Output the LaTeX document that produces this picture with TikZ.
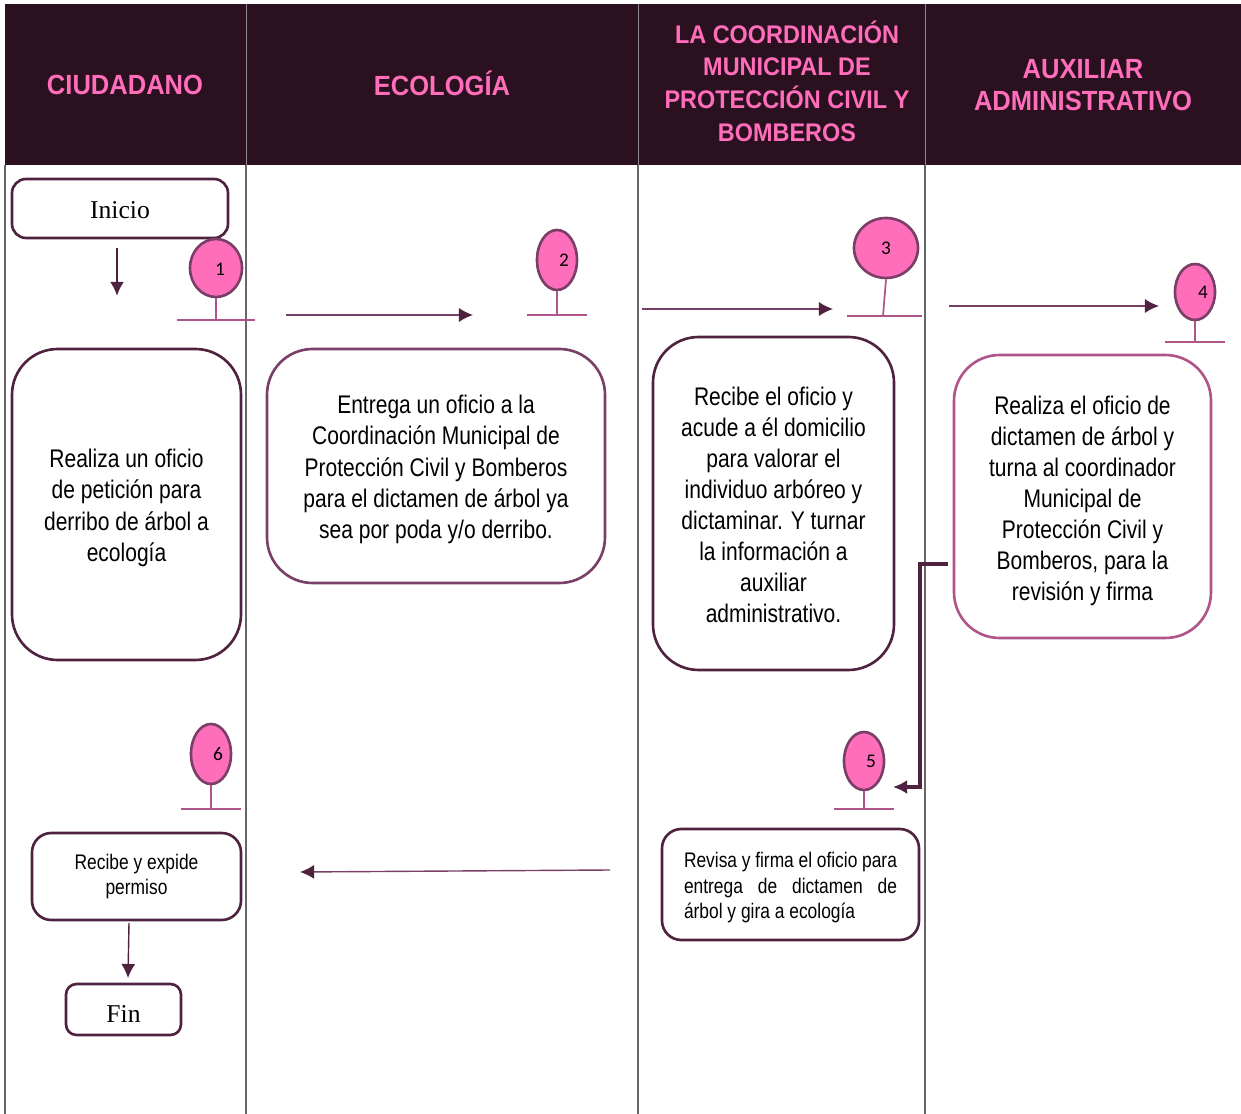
\documentclass[tikz,border=0pt]{standalone}
\usepackage{fontspec}
\usetikzlibrary{arrows.meta,shapes.geometric}
\newfontfamily\condfont[FakeStretch=0.825]{Liberation Sans}
\newfontfamily\headfont[FakeStretch=0.92]{Liberation Sans Bold}
\newfontfamily\timesfont{Liberation Serif}
\newfontfamily\numfont{Carlito}
\newcommand{\dropline}[1]{\rule{0pt}{#1}}
\definecolor{headdark}{HTML}{2B1120}
\definecolor{headpink}{HTML}{FF6DBB}
\definecolor{wine}{HTML}{4F2340}
\definecolor{mauve}{HTML}{7A3F66}
\definecolor{rose}{HTML}{B0558A}
\definecolor{pinkfill}{HTML}{FF6EBB}
\tikzset{
    headtext/.style={text=headpink,align=center,font=\headfont\fontsize{15.8}{17.8}\selectfont},
    bodytext/.style={align=center,text=black,font=\condfont\fontsize{14.5}{17.7}\selectfont},
    smalltext/.style={text=black,font=\condfont\fontsize{12}{14.6}\selectfont},
    startbox/.style={draw=wine,line width=1.5pt,rounded corners=8pt,inner sep=0pt,font=\timesfont\fontsize{14.6}{17}\selectfont},
    bigbox/.style={draw=wine,line width=1.5pt,rounded corners=26pt,inner sep=0pt,bodytext},
    smallbox/.style={draw=wine,line width=1.5pt,rounded corners=11pt,inner sep=0pt,smalltext},
    pin/.style={draw=mauve,fill=pinkfill,line width=1.5pt,ellipse,inner sep=0pt},
    pinnum/.style={inner sep=0pt,text=black,font=\numfont\fontsize{11}{13}\selectfont},
    pinline/.style={draw=rose,line width=1pt},
    laneline/.style={draw=black!60,line width=0.7pt},
    thinflow/.style={draw=mauve,line width=0.8pt,-{Latex[length=8pt,width=8pt,color=wine]}},
    boldflow/.style={draw=wine,line width=1.5pt,-{Latex[length=8pt,width=8pt]}}
}
\begin{document}
\begin{tikzpicture}[x=0.02cm,y=-0.02cm]
    \useasboundingbox (0,0) rectangle (1241,1114);

    % Draw the header band
    \fill[headdark] (5,4) rectangle (1241,165);

    % Add lane lines
    \draw[laneline] (5,165) -- (5,1114);
    \draw[laneline] (246,165) -- (246,1114);
    \draw[laneline] (638,165) -- (638,1114);
    \draw[laneline] (925,165) -- (925,1114);
    \draw[black!45,line width=0.4pt] (246,4) -- (246,165);
    \draw[black!45,line width=0.4pt] (638,4) -- (638,165);
    \draw[black!45,line width=0.4pt] (925,4) -- (925,165);

    % Add header labels
    \node[headtext] (headciudadano) at (125,85) {CIUDADANO};
    \node[headtext] (headecologia) at (442,83) {ECOLOGÍA};
    \node[headtext,font=\headfont\fontsize{14.5}{18.6}\selectfont] (headproteccion) at (787,81) {LA COORDINACIÓN\\MUNICIPAL DE\\PROTECCIÓN CIVIL Y\\BOMBEROS};
    \node[headtext] (headauxiliar) at (1083,85) {AUXILIAR\\ADMINISTRATIVO};

    % Draw the boxes
    \node[startbox,minimum width=216*0.02cm,minimum height=59*0.02cm] (inicio) at (120,208.5) {\dropline{11.2pt}Inicio};
    \node[bigbox,minimum width=229*0.02cm,minimum height=311*0.02cm] (oficio) at (126.5,504.5) {\dropline{14.4pt}Realiza un oficio\\de petición para\\derribo de árbol a\\ecología};
    \node[bigbox,draw=mauve,minimum width=338*0.02cm,minimum height=234*0.02cm] (entrega) at (436,466) {\dropline{14.4pt}Entrega un oficio a la\\Coordinación  Municipal de\\Protección Civil y Bomberos\\para el dictamen de árbol ya\\sea por poda y/o derribo.};
    \node[bigbox,minimum width=241*0.02cm,minimum height=333*0.02cm] (recibe) at (773.5,503.5) {\dropline{12pt}Recibe el oficio y\\acude a él domicilio\\para valorar el\\individuo arbóreo y\\dictaminar. Y turnar\\la información a\\auxiliar\\administrativo.};
    \node[bigbox,draw=rose,minimum width=257*0.02cm,minimum height=283*0.02cm] (realiza) at (1082.5,496.5) {\dropline{15.5pt}Realiza el oficio de\\dictamen de árbol y\\turna al coordinador\\Municipal de\\Protección Civil y\\Bomberos, para la\\revisión y firma};
    \node[smallbox,text width=213*0.02cm,align=justify,minimum width=257*0.02cm,minimum height=111*0.02cm] (revisa) at (790.5,884.5) {\dropline{12.5pt}Revisa y firma el oficio para\linebreak entrega de dictamen de\linebreak árbol y gira a ecología};
    \node[smallbox,align=center,minimum width=209*0.02cm,minimum height=87*0.02cm] (expide) at (136.5,876.5) {Recibe y expide\\permiso};
    \node[startbox,rounded corners=6pt,minimum width=115*0.02cm,minimum height=51*0.02cm] (fin) at (123.5,1009.5) {\dropline{14.5pt}Fin};

    % Draw the numbered pins
    \node[pin,minimum width=52*0.02cm,minimum height=58*0.02cm] (pinone) at (216,268) {};
    \node[pin,minimum width=40*0.02cm,minimum height=60*0.02cm] (pintwo) at (557,260) {};
    \node[pin,minimum width=64*0.02cm,minimum height=60*0.02cm] (pinthree) at (886,248) {};
    \node[pin,minimum width=40*0.02cm,minimum height=56*0.02cm] (pinfour) at (1195,292) {};
    \node[pin,minimum width=40*0.02cm,minimum height=58*0.02cm] (pinfive) at (864,761) {};
    \node[pin,minimum width=40*0.02cm,minimum height=60*0.02cm] (pinsix) at (211,754) {};

    \node[pinnum] (numone) at (220,269) {1};
    \node[pinnum] (numtwo) at (564,260) {2};
    \node[pinnum] (numthree) at (886,248) {3};
    \node[pinnum] (numfour) at (1203,292) {4};
    \node[pinnum] (numfive) at (871,761) {5};
    \node[pinnum] (numsix) at (218,754) {6};

    % Add pin stems and bases
    \coordinate (baseone) at (216,320);
    \coordinate (basetwo) at (557,315);
    \coordinate (basethree) at (883,316);
    \coordinate (basefour) at (1195,342);
    \coordinate (basefive) at (864,809);
    \coordinate (basesix) at (211,809);

    \draw[pinline] (pinone.south) -- (baseone);
    \draw[pinline] (177,320) -- (255,320);
    \draw[pinline] (pintwo.south) -- (basetwo);
    \draw[pinline] (527,315) -- (587,315);
    \draw[pinline] (pinthree.south) -- (basethree);
    \draw[pinline] (847,316) -- (922,316);
    \draw[pinline] (pinfour.south) -- (basefour);
    \draw[pinline] (1165,342) -- (1225,342);
    \draw[pinline] (pinfive.south) -- (basefive);
    \draw[pinline] (834,809) -- (894,809);
    \draw[pinline] (pinsix.south) -- (basesix);
    \draw[pinline] (181,809) -- (241,809);

    % Draw the flow arrows
    \coordinate (startdown) at (117,248);
    \coordinate (enddown) at (117,296);
    \draw[boldflow] (startdown) -- (enddown);

    \coordinate (startone) at (286,315);
    \coordinate (endone) at (473,315);
    \draw[thinflow] (startone) -- (endone);

    \coordinate (starttwo) at (642,309);
    \coordinate (endtwo) at (833,309);
    \draw[thinflow] (starttwo) -- (endtwo);

    \coordinate (startthree) at (949,306);
    \coordinate (endthree) at (1159,306);
    \draw[thinflow] (startthree) -- (endthree);

    \coordinate (startback) at (948,564);
    \coordinate (endback) at (893,787);
    \draw[boldflow,line width=2.2pt] (startback) -- (920,564) -- (920,787) -- (endback);

    \coordinate (startleft) at (610,870);
    \coordinate (endleft) at (300,872);
    \draw[thinflow] (startleft) -- (endleft);

    \coordinate (startfin) at (129,923);
    \coordinate (endfin) at (128,978);
    \draw[thinflow,draw=wine] (startfin) -- (endfin);
\end{tikzpicture}
\end{document}
